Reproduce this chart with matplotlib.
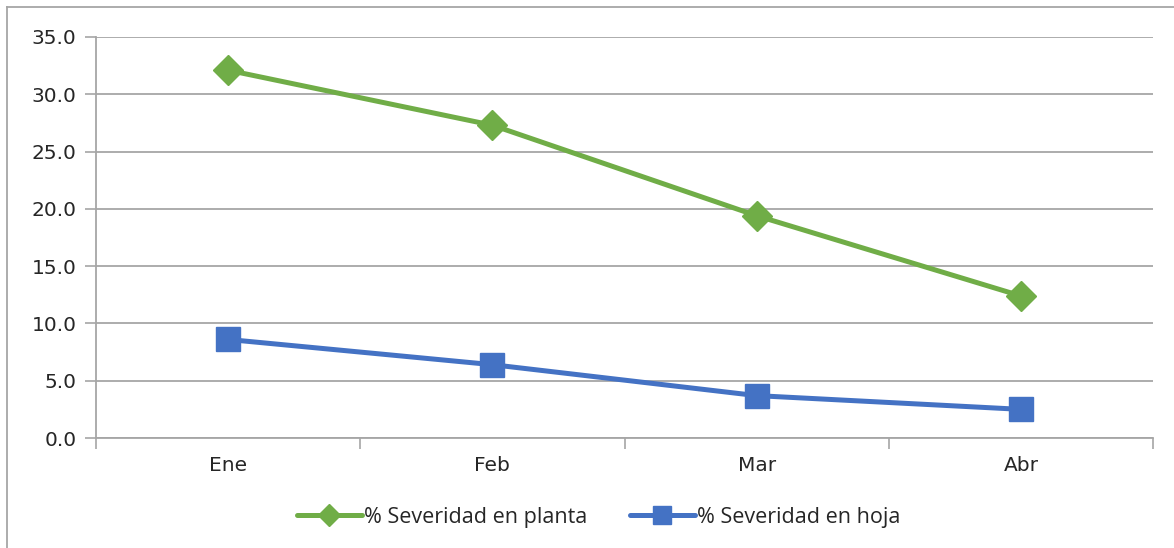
import matplotlib
matplotlib.use("Agg")
import matplotlib.pyplot as plt
from matplotlib.lines import Line2D

months = ["Ene", "Feb", "Mar", "Abr"]
planta = [32.1, 27.3, 19.4, 12.4]
hoja = [8.6, 6.4, 3.7, 2.5]
yticks = [0, 5, 10, 15, 20, 25, 30, 35]

green = "#70AD47"
blue = "#4472C4"
grey = "#A6A6A6"

fig = plt.figure(figsize=(11.74, 5.48), dpi=100)
ax = fig.add_axes([96/1174, 1-438/548, (1153-96)/1174, (438-37)/548])

x = list(range(len(months)))
ax.plot(x, planta, color=green, lw=3.6, marker="D", ms=15, mec=green, mfc=green,
        label="% Severidad en planta", solid_capstyle="round")
ax.plot(x, hoja, color=blue, lw=3.6, marker="s", ms=17.5, mec=blue, mfc=blue,
        label="% Severidad en hoja", solid_capstyle="round")

ax.set_xlim(-0.5, 3.5)
ax.set_ylim(0, 35)
ax.set_yticks(yticks)
ax.set_yticklabels([f"{v:.1f}" for v in yticks])
ax.set_xticks(x)
ax.set_xticklabels(months)
ax.set_xticks([-0.5, 0.5, 1.5, 2.5, 3.5], minor=True)
ax.tick_params(axis="x", which="major", length=0, pad=13, labelsize=14.5)
ax.tick_params(axis="x", which="minor", length=8, width=1.2, color=grey, direction="out")
ax.tick_params(axis="y", length=8, width=1.2, color=grey, pad=6, labelsize=14.5)
for lab in ax.get_xticklabels() + ax.get_yticklabels():
    lab.set_color("#262626")

ax.grid(axis="y", color=grey, lw=1.3)
ax.set_axisbelow(True)
for s in ["top", "right"]:
    ax.spines[s].set_visible(False)
for s in ["left", "bottom"]:
    ax.spines[s].set_color(grey)
    ax.spines[s].set_linewidth(1.3)

leg = ax.legend(loc="center", bbox_to_anchor=(0.5 + (598-624)/1057, (438-517)/401),
                ncol=2, frameon=False, handlelength=3.0, markerscale=0.75,
                handletextpad=0.1, columnspacing=2.0,
                prop={"family": "Open Sans", "size": 15.5})
for t in leg.get_texts():
    t.set_color("#262626")

fig.add_artist(Line2D([7/1174, 1], [1-7/548, 1-7/548], transform=fig.transFigure, color=grey, lw=1.3))
fig.add_artist(Line2D([7/1174, 7/1174], [0, 1-7/548], transform=fig.transFigure, color=grey, lw=1.3))

fig.savefig("out.png", dpi=100)
